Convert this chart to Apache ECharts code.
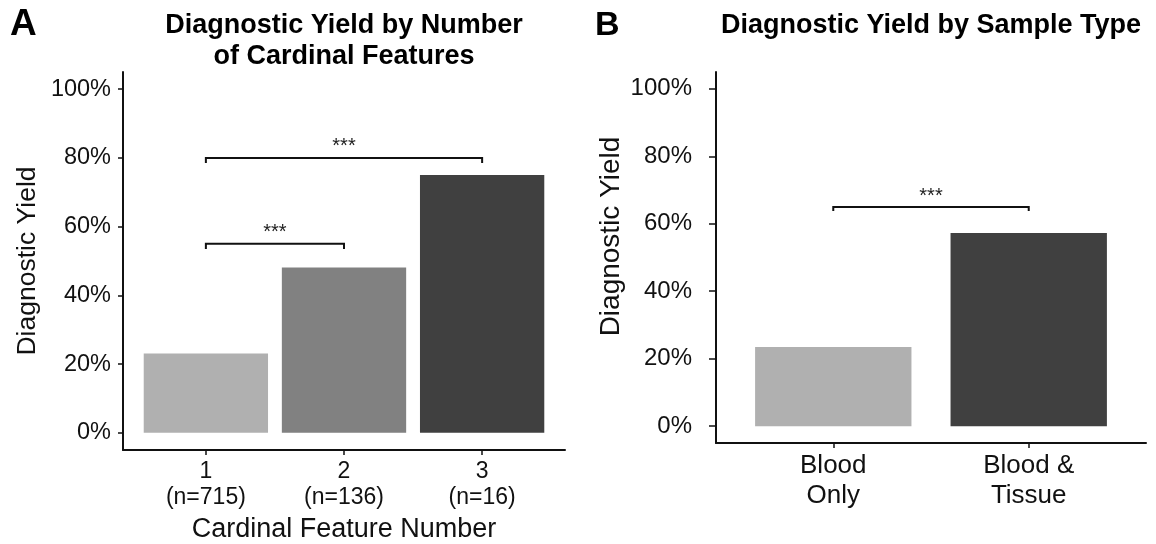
<!DOCTYPE html>
<html>
<head>
<meta charset="utf-8">
<script src="https://cdn.jsdelivr.net/npm/echarts@6/dist/echarts.min.js"></script>
<style>
  html, body { margin: 0; padding: 0; background: #ffffff; }
  #chart { width: 1156px; height: 544px; }
</style>
</head>
<body>
<div id="chart"></div>
<script>
// ---------- data ----------
const catsA = ['1', '2', '3'];
const countsA = ['(n=715)', '(n=136)', '(n=16)'];
const yieldA = [23.1, 48.1, 75.0];
const sigA = [[1, 2, 55, '***'], [1, 3, 80, '***']];

const catsB = ['Blood\nOnly', 'Blood &\nTissue'];
const yieldB = [23.5, 57.3];
const sigB = [[1, 2, 65, '***']];

const yTicks = [0, 20, 40, 60, 80, 100];

// ---------- styles ----------
const coloursA = ['#b0b0b0', '#818181', '#404040'];
const coloursB = ['#b0b0b0', '#404040'];
const FONT = "'Liberation Sans', Arial, Helvetica, sans-serif";
const INK = '#111111';

function bracketSeries(xAxisIndex, yAxisIndex, sig, drop, lift) {
  return {
    type: 'custom',
    xAxisIndex, yAxisIndex,
    coordinateSystem: 'cartesian2d',
    encode: { x: [0, 1], y: 2 },
    data: sig.map(s => [s[0], s[1], s[2], s[3]]),
    silent: true,
    z: 5,
    renderItem: function (params, api) {
      const x1 = api.value(0), x2 = api.value(1), y = api.value(2);
      const p1 = api.coord([x1, y]);
      const p2 = api.coord([x2, y]);
      const yd = api.coord([x1, y - drop])[1];
      const ys = api.coord([x1, y + lift])[1];
      return {
        type: 'group',
        children: [
          { type: 'polyline',
            shape: { points: [[p1[0], yd], p1, p2, [p2[0], yd]] },
            style: { stroke: INK, lineWidth: 2, fill: null } },
          { type: 'text',
            x: (p1[0] + p2[0]) / 2, y: ys,
            style: { text: sig[params.dataIndex][3], align: 'center', verticalAlign: 'middle',
                     fontSize: 20, fontFamily: FONT, fill: '#222' } }
        ]
      };
    }
  };
}

function yAxisCfg(gridIndex, labelSize, labelMargin, tickLen, nameSize, nameGap, namePad) {
  return {
    type: 'value', gridIndex,
    min: -5, max: 105,
    name: 'Diagnostic Yield', nameLocation: 'middle', nameGap,
    nameTextStyle: { fontFamily: FONT, fontSize: nameSize, color: INK, padding: namePad },
    axisLine: { show: true, onZero: false, lineStyle: { color: INK, width: 2 } },
    axisTick: { show: true, customValues: yTicks, length: tickLen, lineStyle: { color: INK, width: 1.5 } },
    axisLabel: { customValues: yTicks, formatter: v => v + '%', margin: labelMargin,
                 fontFamily: FONT, fontSize: labelSize, color: INK },
    splitLine: { show: false }
  };
}

const option = {
  backgroundColor: '#ffffff',
  animation: false,
  title: [
    { text: 'A', left: 10, top: 6, padding: 0,
      textStyle: { fontFamily: FONT, fontSize: 37, fontWeight: 'bold', color: '#000', lineHeight: 37 } },
    { text: 'B', left: 595, top: 9, padding: 0,
      textStyle: { fontFamily: FONT, fontSize: 34, fontWeight: 'bold', color: '#000', lineHeight: 34 } },
    { text: 'Diagnostic Yield by Number\nof Cardinal Features', left: 344, top: 10, padding: 0,
      textAlign: 'center',
      textStyle: { fontFamily: FONT, fontSize: 27, fontWeight: 'bold', color: '#000', lineHeight: 31 } },
    { text: 'Diagnostic Yield by Sample Type', left: 931, top: 10, padding: 0,
      textAlign: 'center',
      textStyle: { fontFamily: FONT, fontSize: 27, fontWeight: 'bold', color: '#000', lineHeight: 31 } }
  ],
  grid: [
    { left: 123, top: 72, width: 442, height: 378, containLabel: false, outerBoundsMode: 'none' },
    { left: 716, top: 72, width: 430, height: 371, containLabel: false, outerBoundsMode: 'none' }
  ],
  xAxis: [
    { type: 'value', gridIndex: 0, min: 0.4, max: 3.6,
      name: 'Cardinal Feature Number', nameLocation: 'middle', nameGap: 61,
      nameTextStyle: { fontFamily: FONT, fontSize: 27, color: INK },
      axisLine: { show: true, onZero: false, lineStyle: { color: INK, width: 2 } },
      axisTick: { show: true, customValues: [1, 2, 3], length: 5, lineStyle: { color: INK, width: 1.5 } },
      axisLabel: { customValues: [1, 2, 3], margin: 9,
                   formatter: v => catsA[v - 1] + '\n' + countsA[v - 1],
                   fontFamily: FONT, fontSize: 23, lineHeight: 26, color: INK },
      splitLine: { show: false } },
    { type: 'value', gridIndex: 1, min: 0.4, max: 2.6,
      axisLine: { show: true, onZero: false, lineStyle: { color: INK, width: 2 } },
      axisTick: { show: true, customValues: [1, 2], length: 5, lineStyle: { color: INK, width: 1.5 } },
      axisLabel: { customValues: [1, 2], margin: 8,
                   formatter: v => catsB[v - 1],
                   fontFamily: FONT, fontSize: 26, lineHeight: 30, color: INK },
      splitLine: { show: false } }
  ],
  yAxis: [
    yAxisCfg(0, 23.5, 12, 5, 26.5, 82, 0),
    yAxisCfg(1, 24, 24, 7, 28, 91, [0, 0, 0, 42])
  ],
  series: [
    { type: 'bar', xAxisIndex: 0, yAxisIndex: 0, barWidth: '90%',
      data: yieldA.map((v, i) => ({ value: [i + 1, v], itemStyle: { color: coloursA[i] } })) },
    { type: 'bar', xAxisIndex: 1, yAxisIndex: 1, barWidth: '80%',
      data: yieldB.map((v, i) => ({ value: [i + 1, v], itemStyle: { color: coloursB[i] } })) },
    bracketSeries(0, 0, sigA, 1.5, 3.2),
    bracketSeries(1, 1, sigB, 1.2, 3.2)
  ]
};

const chart = echarts.init(document.getElementById('chart'), null, { renderer: 'canvas' });
chart.setOption(option);
</script>
</body>
</html>
